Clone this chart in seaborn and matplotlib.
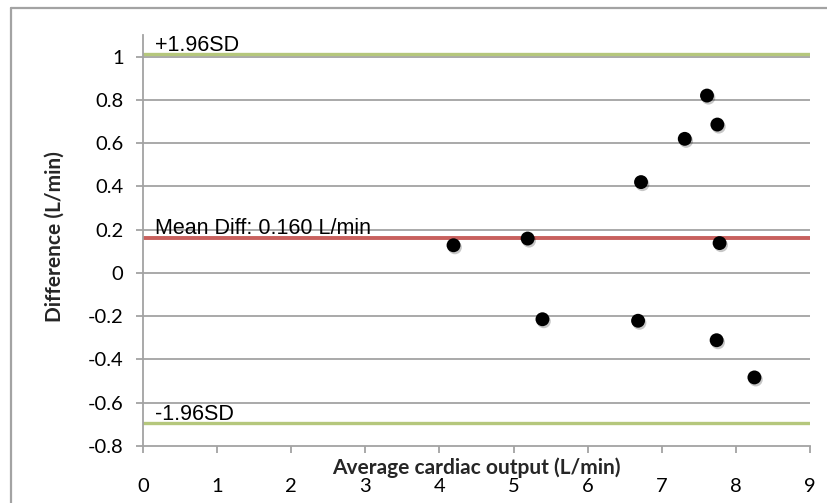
import numpy as np
import pandas as pd
import matplotlib
matplotlib.use('Agg')
import matplotlib.pyplot as plt
import matplotlib.patheffects as pe
from matplotlib.lines import Line2D
import seaborn as sns

# values
avg_output = [7.61, 7.75, 7.31, 6.72, 4.19, 5.19, 7.78, 5.39, 6.68, 7.74, 8.25]
difference = [0.82, 0.686, 0.62, 0.42, 0.128, 0.159, 0.138, -0.214, -0.221, -0.311, -0.483]
mean_diff = 0.160
upper_loa = 1.014
lower_loa = -0.694
x_ticks = list(range(0, 10))
y_ticks = [-0.8, -0.6, -0.4, -0.2, 0, 0.2, 0.4, 0.6, 0.8, 1]
y_tick_labels = ['-0.8', '-0.6', '-0.4', '-0.2', '0', '0.2', '0.4', '0.6', '0.8', '1']

df = pd.DataFrame({'avg': avg_output, 'diff': difference})

sns.set_theme(style='white')
plt.rcParams['font.family'] = ['Lato', 'DejaVu Sans']

grey = '#a3a3a3'
green = '#b5c77c'
red = '#c8605d'

fig = plt.figure(figsize=(8.28, 5.03), dpi=100)
ax = fig.add_axes([143 / 828, 1 - 446 / 503, (810 - 143) / 828, (446 - 35) / 503])

ax.set_xlim(0, 9)
ax.set_ylim(-0.8, 1.1)
ax.set_yticks(y_ticks)
ax.set_yticklabels(y_tick_labels)
ax.set_xticks(x_ticks)

for y in y_ticks[1:]:
    ax.axhline(y, color=grey, lw=1.3, zorder=1)

ax.axhline(upper_loa, color=green, lw=2.4, zorder=2)
ax.axhline(lower_loa, color=green, lw=2.4, zorder=2)
ax.axhline(mean_diff, color=red, lw=2.8, zorder=2)

sns.scatterplot(data=df, x='avg', y='diff', ax=ax, color='black', s=100,
                edgecolor='none', zorder=5,
                path_effects=[pe.SimplePatchShadow(offset=(1, -1.5), shadow_rgbFace='black',
                                                   alpha=0.22),
                              pe.Normal()])

txt = dict(family=['Liberation Sans', 'DejaVu Sans'], fontsize=15.5, color='black',
           va='baseline', ha='left')
ax.text(0.16, upper_loa + 0.014, '+1.96SD', **txt)
ax.text(0.16, mean_diff + 0.018, 'Mean Diff: 0.160 L/min', **txt)
ax.text(0.16, lower_loa + 0.014, '-1.96SD', **txt)

for side in ['top', 'right']:
    ax.spines[side].set_visible(False)
for side in ['left', 'bottom']:
    ax.spines[side].set_color(grey)
    ax.spines[side].set_linewidth(1.3)

ax.tick_params(axis='both', direction='out', length=5, width=1.3, color=grey,
               labelsize=14.5, labelcolor='black')
ax.tick_params(axis='y', pad=9, left=True)
ax.tick_params(axis='x', pad=18, bottom=True)

ax.set_xlabel('Average cardiac output (L/min)', fontsize=15, fontweight='bold')
ax.xaxis.set_label_coords(0.5, -0.028)
ax.xaxis.label.set_va('top')
ax.set_ylabel('Difference (L/min)', fontsize=15, fontweight='bold')
ax.yaxis.set_label_coords(-0.118, 0.51)

# outer chart frame (cropped at right and bottom)
fig.add_artist(Line2D([11 / 828, 1], [1 - 8 / 503, 1 - 8 / 503], color=grey, lw=1.6))
fig.add_artist(Line2D([11 / 828, 11 / 828], [0, 1 - 8 / 503], color=grey, lw=1.6))

fig.savefig('out.png', dpi=100)
